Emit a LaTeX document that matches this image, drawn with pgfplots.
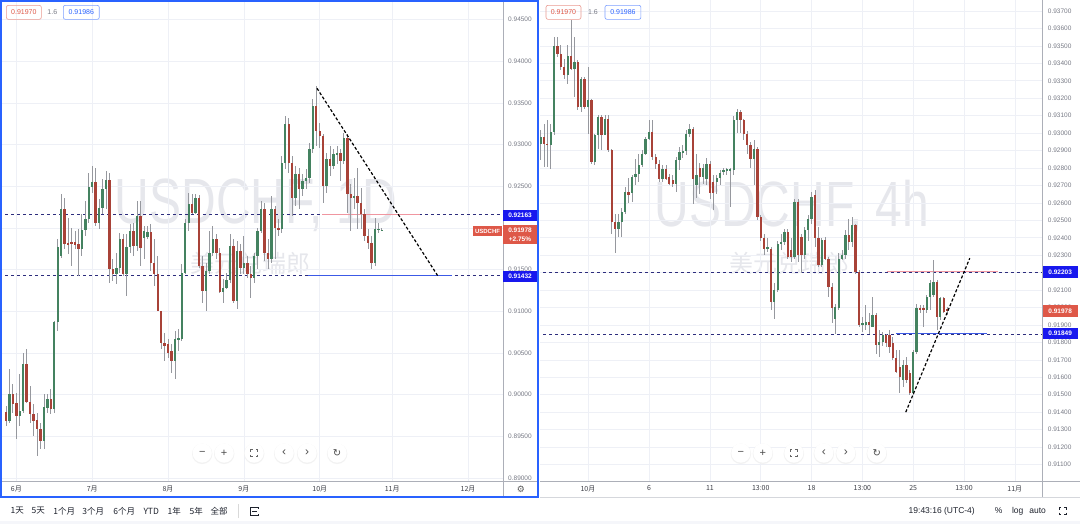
\documentclass[border=0pt]{standalone}
\usepackage{fontspec}
\setmainfont{Liberation Sans}
\newfontfamily\cjk{Noto Sans CJK SC}
\newfontfamily\dejavu{DejaVu Sans}
\usepackage{graphicx}
\usepackage{pgfplots}
\usepackage{pgfplotstable}
\pgfplotsset{compat=1.18}

\definecolor{upc}{RGB}{68,130,96}
\definecolor{dnc}{RGB}{168,66,56}
\definecolor{wickc}{RGB}{150,152,158}
\definecolor{tvblue}{RGB}{41,98,255}
\definecolor{lblblue}{RGB}{24,24,238}
\definecolor{lblred}{RGB}{222,88,72}
\definecolor{dashc}{RGB}{45,45,125}
\definecolor{gridc}{RGB}{238,240,246}
\definecolor{axc}{RGB}{120,123,134}
\definecolor{xlc}{RGB}{60,62,70}
\definecolor{sepc}{RGB}{172,175,184}
\definecolor{wmc}{RGB}{230,231,236}
\definecolor{tbc}{RGB}{30,34,45}
\definecolor{segred}{RGB}{240,150,160}
\definecolor{segblue}{RGB}{60,90,230}

% prices; plotted as 1000*price-900
\pgfplotstableread{
i o h l c
-3 0.89795 0.89863 0.89623 0.89683
-2 0.89683 0.90303 0.89663 0.90003
-1 0.90003 0.90123 0.89783 0.89883
0 0.89903 0.90023 0.89463 0.89743
1 0.89743 0.90243 0.89623 0.89803
2 0.89803 0.90503 0.89783 0.90363
3 0.90363 0.90543 0.89903 0.89911
4 0.89911 0.90103 0.89663 0.89763
5 0.89763 0.89883 0.89503 0.89683
6 0.89695 0.89783 0.89263 0.89591
7 0.89591 0.89663 0.89343 0.89443
8 0.89443 0.90003 0.89343 0.89855
9 0.89843 0.90003 0.89783 0.89951
10 0.89951 0.90071 0.89763 0.89831
11 0.89823 0.90883 0.89783 0.90875
12 0.90875 0.91863 0.90763 0.91775
13 0.91663 0.92403 0.91643 0.92231
14 0.92231 0.92363 0.91743 0.91803
15 0.91823 0.92123 0.91683 0.91793
16 0.91833 0.92003 0.91543 0.91803
17 0.91833 0.91963 0.91743 0.91793
18 0.91803 0.91983 0.91423 0.91743
19 0.91743 0.92163 0.91663 0.91971
20 0.91971 0.92323 0.91903 0.92111
21 0.92111 0.92663 0.92063 0.92495
22 0.92495 0.92743 0.92423 0.92551
23 0.92551 0.92723 0.92023 0.92063
24 0.92063 0.92343 0.91983 0.92243
25 0.92243 0.92583 0.92163 0.92463
26 0.92463 0.92683 0.92223 0.92575
27 0.92575 0.92663 0.91343 0.91503
28 0.91503 0.91623 0.91363 0.91443
29 0.91443 0.91703 0.91323 0.91523
30 0.91523 0.91943 0.91463 0.91871
31 0.91871 0.91923 0.91423 0.91443
32 0.91443 0.91923 0.91183 0.91775
33 0.91775 0.92043 0.91703 0.91963
34 0.91963 0.92063 0.91663 0.91783
35 0.91783 0.92323 0.91723 0.92143
36 0.92143 0.92323 0.91543 0.91763
37 0.91883 0.92023 0.91623 0.91963
38 0.91895 0.92023 0.91863 0.91951
39 0.91951 0.92043 0.91483 0.91583
40 0.91583 0.91863 0.91303 0.91443
41 0.91443 0.91663 0.91003 0.91003
42 0.91003 0.91003 0.90543 0.90623
43 0.90623 0.90743 0.90403 0.90583
44 0.90603 0.90663 0.90443 0.90503
45 0.90523 0.90603 0.90263 0.90403
46 0.90403 0.90763 0.90183 0.90663
47 0.90663 0.90783 0.90523 0.90683
48 0.90663 0.91563 0.90643 0.91463
49 0.91463 0.92103 0.91443 0.92063
50 0.92063 0.92423 0.91963 0.92283
51 0.92283 0.92403 0.92163 0.92183
52 0.92183 0.92403 0.92163 0.92363
53 0.92363 0.92391 0.91523 0.91543
54 0.91543 0.91663 0.91103 0.91243
55 0.91243 0.91583 0.91003 0.91483
56 0.91483 0.91963 0.91443 0.91703
57 0.91703 0.92023 0.91663 0.91871
58 0.91871 0.91923 0.91623 0.91703
59 0.91703 0.91763 0.91223 0.91231
60 0.91231 0.91383 0.91103 0.91283
61 0.91283 0.91463 0.91263 0.91375
62 0.91375 0.91923 0.91343 0.91783
63 0.91783 0.91863 0.91103 0.91123
64 0.91123 0.91843 0.91023 0.91723
65 0.91723 0.91803 0.91443 0.91523
66 0.91523 0.91903 0.91443 0.91575
67 0.91575 0.91663 0.91403 0.91443
68 0.91443 0.91543 0.91163 0.91403
69 0.91403 0.91703 0.91343 0.91663
70 0.91663 0.92003 0.91503 0.91963
71 0.91963 0.92323 0.91943 0.92223
72 0.92222 0.92302 0.91602 0.91702
73 0.91702 0.91862 0.91502 0.91622
74 0.91622 0.92382 0.91582 0.92222
75 0.92222 0.92262 0.91622 0.92002
76 0.92002 0.92102 0.91902 0.91982
77 0.91982 0.92862 0.91942 0.92782
78 0.92782 0.93342 0.92702 0.93242
79 0.93242 0.93322 0.92662 0.92782
80 0.92782 0.92862 0.92142 0.92362
81 0.92362 0.92742 0.92262 0.92642
82 0.92642 0.92722 0.92222 0.92462
83 0.92462 0.92642 0.92382 0.92562
84 0.92562 0.92702 0.92462 0.92602
85 0.92602 0.93022 0.92542 0.92942
86 0.92942 0.93542 0.92902 0.93462
87 0.93462 0.93702 0.92982 0.93162
88 0.93162 0.93262 0.92962 0.93102
89 0.93102 0.93122 0.92302 0.92502
90 0.92502 0.92902 0.92422 0.92822
91 0.92822 0.92982 0.92622 0.92742
92 0.92742 0.92942 0.92702 0.92882
93 0.92882 0.92982 0.92762 0.92902
94 0.92902 0.92942 0.92562 0.92802
95 0.92802 0.93142 0.92762 0.93082
96 0.93082 0.93122 0.92182 0.92402
97 0.92402 0.92522 0.91962 0.92362
98 0.92362 0.92602 0.92222 0.92382
99 0.92382 0.92722 0.91982 0.92302
100 0.92302 0.92482 0.91982 0.92162
101 0.92162 0.92222 0.91842 0.91902
102 0.91902 0.91982 0.91742 0.91822
103 0.91822 0.91902 0.91502 0.91582
104 0.91582 0.92122 0.91542 0.91982
105 0.91982 0.92062 0.91942 0.91992
106 0.91970 0.92002 0.91962 0.91978
}\dailydata

\pgfplotstableread{
j o h l c
-14 0.92940 0.93016 0.92845 0.92978
-13 0.92978 0.93055 0.92806 0.92936
-12 0.92940 0.93074 0.92806 0.92930
-11 0.92930 0.93055 0.92797 0.93007
-10 0.93007 0.93551 0.92988 0.93498
-9 0.93498 0.93551 0.93437 0.93456
-8 0.93456 0.93503 0.93360 0.93379
-7 0.93379 0.93427 0.93312 0.93332
-6 0.93332 0.93503 0.93284 0.93440
-5 0.93440 0.93647 0.93360 0.93370
-4 0.93370 0.93551 0.93207 0.93408
-3 0.93408 0.93417 0.93131 0.93150
-2 0.93150 0.93322 0.93121 0.93312
-1 0.93312 0.93322 0.93140 0.93150
0 0.93150 0.93379 0.92997 0.93188
1 0.93188 0.93198 0.92825 0.92835
2 0.92835 0.92997 0.92816 0.92988
3 0.92988 0.93102 0.92911 0.93093
4 0.93093 0.93102 0.92902 0.92988
5 0.92988 0.93102 0.92988 0.93083
6 0.93083 0.93102 0.92893 0.92902
7 0.92902 0.92911 0.92424 0.92491
8 0.92491 0.92539 0.92310 0.92453
9 0.92453 0.92539 0.92405 0.92491
10 0.92491 0.92568 0.92405 0.92549
11 0.92549 0.92692 0.92539 0.92663
12 0.92663 0.92740 0.92600 0.92644
13 0.92654 0.92758 0.92606 0.92749
14 0.92749 0.92850 0.92700 0.92768
15 0.92768 0.92880 0.92720 0.92816
16 0.92816 0.92902 0.92806 0.92883
17 0.92883 0.92978 0.92873 0.92969
18 0.92969 0.93074 0.92959 0.93007
19 0.93007 0.93074 0.92845 0.92864
20 0.92864 0.92883 0.92797 0.92825
21 0.92825 0.92845 0.92720 0.92739
22 0.92739 0.92816 0.92720 0.92797
23 0.92797 0.92816 0.92730 0.92739
24 0.92749 0.92768 0.92700 0.92711
25 0.92730 0.92758 0.92692 0.92711
26 0.92711 0.92864 0.92660 0.92845
27 0.92845 0.92921 0.92787 0.92892
28 0.92892 0.92930 0.92860 0.92897
29 0.92897 0.93016 0.92873 0.92997
30 0.92997 0.93055 0.92980 0.93026
31 0.93026 0.93036 0.92596 0.92739
32 0.92700 0.92880 0.92630 0.92758
33 0.92802 0.92830 0.92650 0.92749
34 0.92749 0.92825 0.92711 0.92802
35 0.92739 0.92860 0.92700 0.92825
36 0.92825 0.92840 0.92620 0.92654
37 0.92720 0.92760 0.92560 0.92654
38 0.92720 0.92760 0.92650 0.92745
39 0.92745 0.92790 0.92700 0.92772
40 0.92778 0.92800 0.92760 0.92787
41 0.92787 0.92800 0.92760 0.92791
42 0.92787 0.92800 0.92577 0.92791
43 0.92787 0.93100 0.92760 0.93074
44 0.93074 0.93140 0.93000 0.93121
45 0.93121 0.93130 0.93000 0.93074
46 0.93074 0.93080 0.92960 0.92997
47 0.92997 0.93010 0.92880 0.92930
48 0.92930 0.92950 0.92800 0.92854
49 0.92854 0.92960 0.92700 0.92911
50 0.92911 0.92920 0.92500 0.92520
51 0.92520 0.92530 0.92380 0.92396
52 0.92396 0.92420 0.92300 0.92338
53 0.92338 0.92400 0.92320 0.92345
54 0.92338 0.92345 0.91985 0.92033
55 0.92033 0.92140 0.91937 0.92100
56 0.92100 0.92380 0.92090 0.92367
57 0.92367 0.92420 0.92330 0.92377
58 0.92377 0.92450 0.92360 0.92434
59 0.92434 0.92450 0.92280 0.92291
60 0.92329 0.92400 0.92260 0.92291
61 0.92291 0.92620 0.92280 0.92606
62 0.92606 0.92620 0.92260 0.92300
63 0.92405 0.92420 0.92200 0.92300
64 0.92300 0.92460 0.92280 0.92443
65 0.92443 0.92530 0.92380 0.92510
66 0.92510 0.92660 0.92480 0.92634
67 0.92644 0.92672 0.92348 0.92396
68 0.92396 0.92462 0.92233 0.92243
69 0.92243 0.92396 0.92233 0.92386
70 0.92386 0.92405 0.92271 0.92281
71 0.92281 0.92290 0.92061 0.92119
72 0.92119 0.92138 0.91909 0.91995
73 0.91937 0.92023 0.91851 0.92004
74 0.91995 0.92310 0.91985 0.92281
75 0.92281 0.92329 0.92271 0.92300
76 0.92300 0.92443 0.92281 0.92415
77 0.92415 0.92510 0.92329 0.92377
78 0.92377 0.92520 0.92348 0.92472
79 0.92472 0.92481 0.92195 0.92205
80 0.92205 0.92214 0.91889 0.91899
81 0.91899 0.91947 0.91861 0.91910
82 0.91899 0.92014 0.91870 0.91918
83 0.91918 0.91966 0.91851 0.91899
84 0.91889 0.92061 0.91889 0.91956
85 0.91956 0.91966 0.91736 0.91784
86 0.91784 0.91870 0.91717 0.91803
87 0.91803 0.91860 0.91780 0.91841
88 0.91841 0.91851 0.91775 0.91794
89 0.91841 0.91870 0.91740 0.91775
90 0.91794 0.91832 0.91698 0.91708
91 0.91708 0.91755 0.91622 0.91632
92 0.91660 0.91755 0.91508 0.91603
93 0.91584 0.91698 0.91546 0.91670
94 0.91670 0.91717 0.91565 0.91584
95 0.91622 0.91641 0.91498 0.91508
96 0.91508 0.91755 0.91498 0.91746
97 0.91746 0.92023 0.91736 0.91995
98 0.91995 0.92014 0.91970 0.91985
99 0.91995 0.92014 0.91889 0.91985
100 0.91985 0.92071 0.91966 0.92061
101 0.92061 0.92157 0.91985 0.92138
102 0.92071 0.92272 0.92061 0.92147
103 0.92147 0.92157 0.91870 0.91947
104 0.91947 0.92061 0.91928 0.92052
105 0.92052 0.92061 0.91966 0.91975
106 0.91990 0.92004 0.91960 0.91978
}\hourdata

\pgfplotsset{
  wicks/.style={draw=none, mark=none, forget plot,
     error bars/.cd, y dir=both, y explicit, error mark=none,
     error bar style={wickc, line width=0.8pt}, /pgfplots/.cd},
  bodies/.style 2 args={draw=none, mark=none, forget plot,
     error bars/.cd, y dir=both, y explicit, error mark=none,
     error bar style={#1, line width=#2}, /pgfplots/.cd},
  tvaxis/.style={scale only axis, anchor=south west,
     axis line style={draw=none}, major tick length=0pt,
     grid=major, major grid style={gridc, line width=0.6pt},
     yticklabel pos=right, clip=true,
     yticklabel style={anchor=west, inner sep=0pt, xshift=5pt,
        font=\fontsize{6.5}{7}\selectfont, text=axc},
     xticklabel style={anchor=north, inner sep=0pt, yshift=-4.5pt,
        font=\cjk\fontsize{7}{8}\selectfont, text=xlc},
  },
}

\newcommand{\fsicon}[3]{%
  \draw[line width=0.8pt, #3] ({#1-3.5},{#2-1.5}) -- ({#1-3.5},{#2-3.5}) -- ({#1-1.5},{#2-3.5});
  \draw[line width=0.8pt, #3] ({#1+3.5},{#2-1.5}) -- ({#1+3.5},{#2-3.5}) -- ({#1+1.5},{#2-3.5});
  \draw[line width=0.8pt, #3] ({#1-3.5},{#2+1.5}) -- ({#1-3.5},{#2+3.5}) -- ({#1-1.5},{#2+3.5});
  \draw[line width=0.8pt, #3] ({#1+3.5},{#2+1.5}) -- ({#1+3.5},{#2+3.5}) -- ({#1+1.5},{#2+3.5});
}
\newcommand{\navbtns}[6]{%
  \foreach \bx in {#1,#2,#3,#4,#5,#6} {
    \fill[black!5] (\bx,70.2) circle (10.2);
    \fill[white] (\bx,71) circle (9.6);
  }
  \node[text=black!70, font=\fontsize{11}{11}\selectfont] at (#1,71) {−};
  \node[text=black!70, font=\fontsize{11}{11}\selectfont] at (#2,71) {+};
  \fsicon{#3}{71}{black!60}
  \node[text=black!70, font=\fontsize{12}{12}\selectfont] at (#4,71.5) {‹};
  \node[text=black!70, font=\fontsize{12}{12}\selectfont] at (#5,71.5) {›};
  \node[text=black!70, font=\dejavu\fontsize{10}{10}\selectfont] at (#6,71) {↻};
}

\begin{document}
\begin{tikzpicture}
\begin{scope}[x=1pt,y=1pt]
\useasboundingbox (0,0) rectangle (1080,524);
\fill[white] (0,0) rectangle (1080,524);
\fill[gridc!60!white] (0,0) rectangle (1080,3);
% watermarks
\node[text=wmc] at (256,319) {\scalebox{0.75}[1]{\fontsize{64}{64}\selectfont USDCHF, 1D}};
\node[text=wmc, font=\cjk\fontsize{24}{24}\selectfont] at (250,261) {美元兑瑞郎};
\node[text=wmc] at (792,317) {\scalebox{0.75}[1]{\fontsize{64}{64}\selectfont USDCHF, 4h}};
\node[text=wmc, font=\cjk\fontsize{24}{24}\selectfont] at (790,261) {美元兑瑞郎};
\end{scope}

% ---------------- left: daily ----------------
\begin{axis}[tvaxis, at={(0pt,43pt)}, width=503pt, height=481pt,
  xmin=-4.64, xmax=141.16, ymin=-10.362, ymax=47.31,
  xtick={0,22,44,66,88,109,131},
  xticklabels={6月,7月,8月,9月,10月,11月,12月},
  ytick={-10,-5,0,5,10,15,20,25,30,35,40,45},
  yticklabels={0.89000,0.89500,0.90000,0.90500,0.91000,0.91500,0.92000,0.92500,0.93000,0.93500,0.94000,0.94500},
]
\addplot[dashc, line width=0.6pt, dash pattern=on 3pt off 3pt, forget plot] coordinates {(-5,21.63) (142,21.63)};
\addplot[dashc, line width=0.6pt, dash pattern=on 3pt off 3pt, forget plot] coordinates {(-5,14.32) (142,14.32)};
\addplot[segred, line width=0.9pt, forget plot] coordinates {(88.7,21.68) (117.1,21.68)};
\addplot[segblue, line width=0.9pt, forget plot] coordinates {(84.6,14.32) (126.4,14.32)};
\addplot[wicks] table[x=i, y expr={(\thisrow{h}+\thisrow{l})*500-900}, y error expr={(\thisrow{h}-\thisrow{l})*500}] {\dailydata};
\addplot[restrict expr to domain={\thisrow{c}-\thisrow{o}}{0:1}, bodies={upc}{2.4pt}]
  table[x=i, y expr={(\thisrow{o}+\thisrow{c})*500-900}, y error expr={max(abs(\thisrow{c}-\thisrow{o})*500,0.05)}] {\dailydata};
\addplot[restrict expr to domain={\thisrow{c}-\thisrow{o}}{-1:-0.000001}, bodies={dnc}{2.4pt}]
  table[x=i, y expr={(\thisrow{o}+\thisrow{c})*500-900}, y error expr={max(abs(\thisrow{c}-\thisrow{o})*500,0.05)}] {\dailydata};
\addplot[black, line width=1.2pt, dash pattern=on 3pt off 2pt, forget plot] coordinates {(87.2,36.76) (122.3,14.22)};
\end{axis}

% ---------------- right: 4h ----------------
\begin{axis}[tvaxis, at={(540pt,43pt)}, width=503pt, height=481pt,
  xmin=-14.16, xmax=134.22, ymin=10.052, ymax=37.613,
  xtick={0,18,36,51,66,81,96,111,126},
  xticklabels={10月,6,11,13:00,18,13:00,25,13:00,11月},
  ytick={11,12,13,14,15,16,17,18,19,20,21,22,23,24,25,26,27,28,29,30,31,32,33,34,35,36,37},
  yticklabels={0.91100,0.91200,0.91300,0.91400,0.91500,0.91600,0.91700,0.91800,0.91900,0.92000,0.92100,0.92200,0.92300,0.92400,0.92500,0.92600,0.92700,0.92800,0.92900,0.93000,0.93100,0.93200,0.93300,0.93400,0.93500,0.93600,0.93700},
]
\addplot[dashc, line width=0.6pt, dash pattern=on 3pt off 3pt, forget plot] coordinates {(-15,22.03) (135,22.03)};
\addplot[dashc, line width=0.6pt, dash pattern=on 3pt off 3pt, forget plot] coordinates {(-15,18.49) (135,18.49)};
\addplot[segred, line width=0.9pt, forget plot] coordinates {(88.2,22.06) (120.9,22.06)};
\addplot[segblue, line width=0.9pt, forget plot] coordinates {(90.9,18.49) (117.7,18.49)};
\addplot[wicks] table[x=j, y expr={(\thisrow{h}+\thisrow{l})*500-900}, y error expr={(\thisrow{h}-\thisrow{l})*500}] {\hourdata};
\addplot[restrict expr to domain={\thisrow{c}-\thisrow{o}}{0:1}, bodies={upc}{2.3pt}]
  table[x=j, y expr={(\thisrow{o}+\thisrow{c})*500-900}, y error expr={max(abs(\thisrow{c}-\thisrow{o})*500,0.03)}] {\hourdata};
\addplot[restrict expr to domain={\thisrow{c}-\thisrow{o}}{-1:-0.000001}, bodies={dnc}{2.3pt}]
  table[x=j, y expr={(\thisrow{o}+\thisrow{c})*500-900}, y error expr={max(abs(\thisrow{c}-\thisrow{o})*500,0.03)}] {\hourdata};
\addplot[black, line width=1.2pt, dash pattern=on 3pt off 2pt, forget plot] coordinates {(93.8,14.00) (112.7,22.83)};
\end{axis}

\begin{scope}[x=1pt,y=1pt]
% separators and frame
\draw[sepc, line width=0.7pt] (503,27) -- (503,524);
\draw[sepc, line width=0.7pt] (1043,27) -- (1043,524);
\draw[sepc, line width=0.7pt] (0,43) -- (538,43);
\draw[sepc, line width=0.7pt] (540,43) -- (1080,43);
\draw[sepc!50, line width=0.6pt] (540,27) -- (1080,27);
\draw[tvblue, line width=1.6pt] (0.8,27) rectangle (538.2,523.2);

% price labels left
\fill[lblblue] (503,303) rectangle (537,314);
\node[text=white, font=\fontsize{6.5}{7}\selectfont\bfseries] at (520,308.5) {0.92163};
\fill[lblred] (503,280) rectangle (537,299);
\node[text=white, font=\fontsize{6.5}{7}\selectfont\bfseries] at (520,294) {0.91978};
\node[text=white, font=\fontsize{6.5}{7}\selectfont\bfseries] at (520,285) {+2.75\%};
\fill[lblred] (473,288) rectangle (502,298);
\node[text=white, font=\fontsize{6}{7}\selectfont\bfseries] at (487.5,293) {USDCHF};
\fill[lblblue] (503,242) rectangle (537,253);
\node[text=white, font=\fontsize{6.5}{7}\selectfont\bfseries] at (520,247.5) {0.91432};
% price labels right
\fill[lblblue] (1043,246) rectangle (1078,258);
\node[text=white, font=\fontsize{6.5}{7}\selectfont\bfseries] at (1060.5,252) {0.92203};
\fill[lblred] (1043,207) rectangle (1078,219);
\node[text=white, font=\fontsize{6.5}{7}\selectfont\bfseries] at (1060.5,213) {0.91978};
\fill[lblblue] (1043,185) rectangle (1078,196);
\node[text=white, font=\fontsize{6.5}{7}\selectfont\bfseries] at (1060.5,190.5) {0.91849};

% legend boxes
\draw[lblred!60!white, rounded corners=2pt, line width=0.6pt] (6,505) rectangle (41,519);
\node[text=lblred, font=\fontsize{7}{8}\selectfont] at (23.5,512) {0.91970};
\node[text=axc, font=\fontsize{7}{8}\selectfont] at (52,512.5) {1.6};
\draw[tvblue!60!white, rounded corners=2pt, line width=0.6pt] (63,505) rectangle (99,519);
\node[text=tvblue, font=\fontsize{7}{8}\selectfont] at (81,512) {0.91986};
\draw[lblred!60!white, rounded corners=2pt, line width=0.6pt] (546,505) rectangle (581,519);
\node[text=lblred, font=\fontsize{7}{8}\selectfont] at (563.5,512) {0.91970};
\node[text=axc, font=\fontsize{7}{8}\selectfont] at (593,512.5) {1.6};
\draw[tvblue!60!white, rounded corners=2pt, line width=0.6pt] (605,505) rectangle (641,519);
\node[text=tvblue, font=\fontsize{7}{8}\selectfont] at (623,512) {0.91986};

% navigation buttons
\navbtns{202}{224}{254}{284}{307}{337}
\navbtns{741}{763}{794}{824}{846}{877}

% gear
\node[text=black!65, font=\dejavu\fontsize{9}{9}\selectfont] at (521,34.5) {⚙};

% bottom toolbar
\begin{scope}[every node/.style={text=tbc, font=\cjk\fontsize{8.5}{9}\selectfont}]
\node at (17,13) {1天};
\node at (38,13) {5天};
\node at (64,13) {1个月};
\node at (93,13) {3个月};
\node at (124,13) {6个月};
\node at (151,13) {YTD};
\node at (174,13) {1年};
\node at (196,13) {5年};
\node at (219,13) {全部};
\end{scope}
\draw[black!15, line width=0.6pt] (238,6) -- (238,20);
\draw[tbc, line width=0.8pt] (250,9) rectangle (258,17);
\draw[tbc, line width=0.8pt] (252,13) -- (257,13);
\fill[white] (256.5,10.5) rectangle (259,15.5);
\begin{scope}[every node/.style={text=tbc, font=\fontsize{8.5}{9}\selectfont}]
\node at (942,13) {19:43:16 (UTC-4)};
\node at (999,13) {\%};
\node at (1018,13) {log};
\node at (1038,13) {auto};
\end{scope}
\fsicon{1063}{13}{tbc}
\end{scope}
\end{tikzpicture}
\end{document}
